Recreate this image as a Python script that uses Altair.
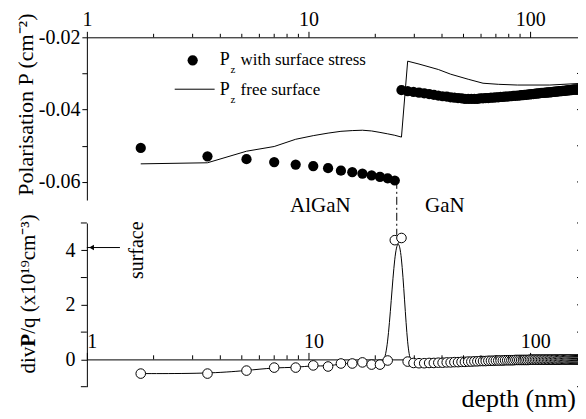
import altair as alt
import pandas as pd

# ---------------- data ----------------
depth = [1.75, 3.5, 5.25, 7, 8.75, 10.5, 12.25, 14, 15.75, 17.5,
         19.25, 21, 22.75, 24.5, 26.25, 28, 29.75, 31.5, 33.25, 35,
         36.75, 38.5, 40.25, 42, 43.75, 45.5, 47.25, 49, 50.75, 52.5,
         54.25, 56, 57.75, 59.5, 61.25, 63, 64.75, 66.5, 68.25, 70,
         71.75, 73.5, 75.25, 77, 78.75, 80.5, 82.25, 84, 85.75, 87.5,
         89.25, 91, 92.75, 94.5, 96.25, 98, 99.75, 101.5, 103.25, 105,
         106.75, 108.5, 110.25, 112, 113.75, 115.5, 117.25, 119, 120.75, 122.5,
         124.25, 126, 127.75, 129.5, 131.25, 133, 134.75, 136.5, 138.25, 140,
         141.75, 143.5, 145.25, 147, 148.75, 150.5, 152.25, 154, 155.75, 157.5,
         159.25, 161, 162.75, 164.5, 166.25, 168, 169.75, 171.5, 173.25, 175]

p_stress = [-0.0506, -0.0529, -0.0537, -0.0545, -0.0552, -0.0556, -0.0562, -0.0569, -0.0573, -0.0577,
            -0.0582, -0.0586, -0.0590, -0.0596, -0.0346, -0.0349, -0.0351, -0.0353, -0.0355, -0.0357,
            -0.0359, -0.0361, -0.0363, -0.0364, -0.0366, -0.0367, -0.0368, -0.0369, -0.0370, -0.0370,
            -0.0370, -0.0370, -0.0370, -0.0369, -0.0369, -0.0368, -0.0368, -0.0367, -0.0367, -0.0366,
            -0.0366, -0.0365, -0.0365, -0.0364, -0.0364, -0.0363, -0.0363, -0.0362, -0.0362, -0.0361,
            -0.0361, -0.0360, -0.0360, -0.0359, -0.0359, -0.0358, -0.0358, -0.0357, -0.0357, -0.0356,
            -0.0356, -0.0355, -0.0355, -0.0354, -0.0354, -0.0354, -0.0353, -0.0353, -0.0352, -0.0352,
            -0.0352, -0.0351, -0.0351, -0.0350, -0.0350, -0.0350, -0.0349, -0.0349, -0.0349, -0.0348,
            -0.0348, -0.0348, -0.0347, -0.0347, -0.0347, -0.0346, -0.0346, -0.0346, -0.0345, -0.0345,
            -0.0345, -0.0345, -0.0344, -0.0344, -0.0344, -0.0344, -0.0343, -0.0343, -0.0343, -0.0343]

div_p = [-0.52, -0.52, -0.41, -0.30, -0.30, -0.22, -0.26, -0.15, -0.15, -0.11,
         -0.19, -0.19, -0.04, 4.37, 4.45, -0.08, -0.13, -0.14, -0.14, -0.13,
         -0.13, -0.12, -0.12, -0.11, -0.11, -0.10, -0.10, -0.09, -0.09, -0.08,
         -0.08, -0.07, -0.07, -0.06, -0.06, -0.06, -0.05, -0.05, -0.05, -0.04,
         -0.04, -0.04, -0.04, -0.03, -0.03, -0.03, -0.03, -0.03, -0.02, -0.02,
         -0.02, -0.02, -0.02, -0.02, -0.02, -0.02, -0.01, -0.01, -0.01, -0.01,
         -0.01, -0.01, -0.01, -0.01, -0.01, -0.01, -0.01, -0.01, -0.01, -0.01,
         -0.01, -0.01, -0.01, -0.01, -0.01, -0.01, -0.01, 0.00, 0.00, 0.00,
         0.00, 0.00, 0.00, 0.00, 0.00, 0.00, 0.00, 0.00, 0.00, 0.00,
         0.00, 0.00, 0.00, 0.00, 0.00, 0.00, 0.00, 0.00, 0.00, 0.00]

fs_depth = [1.75, 3.5, 5.25, 7, 8.75, 10.5, 12.25, 14, 15.75, 17.5,
            19.25, 21, 22.75, 24.5, 26.25, 28, 31.5, 38.5, 43.75, 52.5,
            61.25, 71.75, 87.5, 122.5, 175]
fs_p = [-0.0550, -0.0547, -0.0515, -0.0502, -0.0482, -0.0472, -0.0465, -0.0460, -0.0458, -0.0457,
        -0.0459, -0.0463, -0.0467, -0.0471, -0.0476, -0.0266, -0.0274, -0.0289, -0.0302, -0.0316,
        -0.0327, -0.0330, -0.0332, -0.0332, -0.0327]

major_ticks = [1, 10, 100]
minor_ticks = [2, 3, 4, 5, 6, 7, 8, 9, 20, 30, 40, 50, 60, 70, 80, 90]
top_y_ticks = [-0.06, -0.05, -0.04, -0.03, -0.02]
top_right_ticks = [-0.06, -0.05, -0.04, -0.03]
bot_y_labels = [0, 2, 4]
bot_y_minor = [-1, 1, 3, 5]
bot_y_ticks = [-1, 0, 1, 2, 3, 4, 5]

layer_labels = ["AlGaN", "GaN"]
layer_label_depth = [11.3, 41.2]
interface_depth = 25
interface_top_p = -0.0597

# ---------------- layout ----------------
W = 497
H_TOP = 163
H_BOT = 164
GAP = 23
FONT = "Liberation Serif"
AX = dict(labelFont=FONT, titleFont=FONT, labelColor="black", titleColor="black",
          domainColor="black", tickColor="black", grid=False, labelOverlap=False)

x_scale = alt.Scale(type="log", domain=[1, 173], nice=False)
y_top_scale = alt.Scale(domain=[-0.065, -0.02], nice=False, zero=False)
y_bot_domain = [-1, 5]
y_bot_scale = alt.Scale(domain=y_bot_domain, nice=False, zero=False)
zero_offset = H_BOT * y_bot_domain[1] / (y_bot_domain[1] - y_bot_domain[0])

df = pd.DataFrame({"depth": depth, "p": p_stress, "div": div_p})
fs = pd.DataFrame({"depth": fs_depth, "p": fs_p})
minor_df = pd.DataFrame({"depth": minor_ticks})
one = pd.DataFrame({"k": [0]})

top_x_axis = alt.Axis(orient="top", values=major_ticks, format="d", tickSize=6,
                      labelPadding=6, labelBaseline="alphabetic", labelFlush=False,
                      labelFontSize=20, title=None, **AX)
top_y_axis = alt.Axis(values=top_y_ticks,
                      labelExpr="abs(round(datum.value*100)) % 2 == 0 ? '-' + format(abs(datum.value), '.2f') : ''",
                      tickSize=5, labelPadding=2, labelFontSize=20,
                      title="Polarisation P (cm\u207b\u00b2)", titleFontSize=22,
                      titleFontWeight="normal", titleAngle=270, titleX=-54, titleY=67,
                      titleAlign="center", titleBaseline="alphabetic", **AX)

X = alt.X("depth:Q", scale=x_scale, axis=top_x_axis)
Yp = alt.Y("p:Q", scale=y_top_scale, axis=top_y_axis)

fs_line = alt.Chart(fs).mark_line(color="black", strokeWidth=1, clip=True).encode(x=X, y=Yp)
iface = alt.Chart(pd.DataFrame({"depth": [interface_depth], "p": [interface_top_p]})).mark_rule(
    color="black", strokeWidth=1, strokeDash=[8, 3, 2, 3]).encode(
    x="depth:Q", y="p:Q", y2=alt.value(H_TOP + GAP + 12))
stress_pts = alt.Chart(df).mark_circle(size=105, color="black", opacity=1, clip=True).encode(
    x="depth:Q", y="p:Q")
top_minor = alt.Chart(minor_df).mark_rule(color="black").encode(
    x="depth:Q", y=alt.value(0), y2=alt.value(-3.5))
top_right_line = alt.Chart(one).mark_rule(color="#b5b5b5").encode(
    x=alt.value(W), y=alt.value(0), y2=alt.value(H_TOP))
top_right_ticks_l = alt.Chart(pd.DataFrame({"p": top_right_ticks})).mark_rule(color="black").encode(
    x=alt.value(W - 6), x2=alt.value(W), y="p:Q")

leg_dot = alt.Chart(one).mark_circle(size=105, color="black", opacity=1).encode(
    x=alt.value(106), y=alt.value(23))
leg_line = alt.Chart(one).mark_rule(color="black", strokeWidth=1).encode(
    x=alt.value(88), x2=alt.value(128), y=alt.value(52))


def txt(s, x, y, size, **kw):
    return alt.Chart(one).mark_text(fontSize=size, font=FONT, color="black", **kw).encode(
        x=alt.value(x), y=alt.value(y), text=alt.value(s))


leg_texts = [
    txt("P", 133, 23, 18, align="left", baseline="middle"),
    txt("z", 144, 33, 11, align="left", baseline="middle"),
    txt("with surface stress", 154, 23, 17, align="left", baseline="middle"),
    txt("P", 133, 53, 18, align="left", baseline="middle"),
    txt("z", 144, 63, 11, align="left", baseline="middle"),
    txt("free surface", 154, 53, 17, align="left", baseline="middle"),
]

layer_txt = alt.Chart(pd.DataFrame({"depth": layer_label_depth, "label": layer_labels})).mark_text(
    fontSize=21, font=FONT, color="black", align="center", baseline="alphabetic").encode(
    x="depth:Q", y=alt.value(H_TOP + 12), text="label:N")

top = alt.layer(fs_line, iface, stress_pts, top_minor, top_right_line, top_right_ticks_l,
                leg_dot, leg_line, *leg_texts, layer_txt).properties(width=W, height=H_TOP)

# ---------------- bottom panel ----------------
bot_x_axis = alt.Axis(orient="top", offset=-zero_offset, values=major_ticks, format="d",
                      tickSize=7, labelPadding=5, labelBaseline="alphabetic", labelOffset=5,
                      labelFlush=False, labelFontSize=20, title=None, **AX)
bot_y_axis = alt.Axis(values=bot_y_labels, format="d",
                      tickSize=6, labelPadding=6, labelFontSize=20, title=None, **AX)

Xb = alt.X("depth:Q", scale=x_scale, axis=bot_x_axis)
Yd = alt.Y("div:Q", scale=y_bot_scale, axis=bot_y_axis)

div_line = alt.Chart(df).mark_line(color="black", strokeWidth=1, interpolate="basis", clip=True).encode(
    x=Xb, y=Yd)
div_pts = alt.Chart(df).mark_circle(size=92, fill="white", stroke="black", strokeWidth=1,
                                    fillOpacity=1, strokeOpacity=1, opacity=1, clip=True).encode(
    x="depth:Q", y="div:Q")
bot_minor = alt.Chart(minor_df).mark_rule(color="black").encode(
    x="depth:Q", y=alt.datum(0), y2=alt.datum(0.15))
bot_left_minor = alt.Chart(pd.DataFrame({"div": bot_y_minor})).mark_rule(color="black").encode(
    x=alt.value(-6), x2=alt.value(0), y="div:Q")
bot_right_line = alt.Chart(one).mark_rule(color="#b5b5b5").encode(
    x=alt.value(W), y=alt.value(0), y2=alt.value(H_BOT))
bot_right_ticks_l = alt.Chart(pd.DataFrame({"div": bot_y_ticks})).mark_rule(color="black").encode(
    x=alt.value(W - 6), x2=alt.value(W), y="div:Q")

arrow = alt.Chart(pd.DataFrame({"depth": [1.0], "depth2": [1.41], "div": [4.1]})).mark_rule(
    color="black", strokeWidth=1).encode(x="depth:Q", x2="depth2:Q", y="div:Q")
arrow_head = alt.Chart(pd.DataFrame({"depth": [1.05], "div": [4.1]})).mark_point(
    shape="triangle-left", filled=True, size=30, color="black", opacity=1).encode(
    x="depth:Q", y="div:Q")
surface_txt = alt.Chart(pd.DataFrame({"depth": [1.69], "div": [4.0]})).mark_text(
    fontSize=20, font=FONT, color="black", angle=270, align="center", baseline="middle").encode(
    x="depth:Q", y="div:Q", text=alt.value("surface"))
depth_title = txt("depth (nm)", W - 7, H_BOT + 20, 26, align="right", baseline="alphabetic")

# y title of the lower panel: "div" + bold "P" + rest, rotated
TITLE_X = -52
TITLE_Y0 = 124
bold_p_len = 13
ytitle = [
    txt("div", TITLE_X, TITLE_Y0, 21, angle=270, align="right", baseline="alphabetic"),
    txt("P", TITLE_X, TITLE_Y0, 21, angle=270, align="left", baseline="alphabetic", fontWeight="bold"),
    txt("/q (x10\u00b9\u2079cm\u207b\u00b3)", TITLE_X, TITLE_Y0 - bold_p_len, 21, angle=270,
        align="left", baseline="alphabetic"),
]

bottom = alt.layer(div_line, div_pts, bot_minor, bot_left_minor, bot_right_line, bot_right_ticks_l,
                   arrow, arrow_head, surface_txt, depth_title, *ytitle).properties(width=W, height=H_BOT)

chart = alt.vconcat(top, bottom, spacing=GAP, bounds="flush").properties(
    padding={"left": 7, "top": 1, "right": -6, "bottom": 0}
).configure(font=FONT).configure_view(stroke=None).configure_axis(
    labelFont=FONT, titleFont=FONT, domainWidth=1, tickWidth=1)

chart.save("out.html", embed_options={"renderer": "svg", "actions": False})
